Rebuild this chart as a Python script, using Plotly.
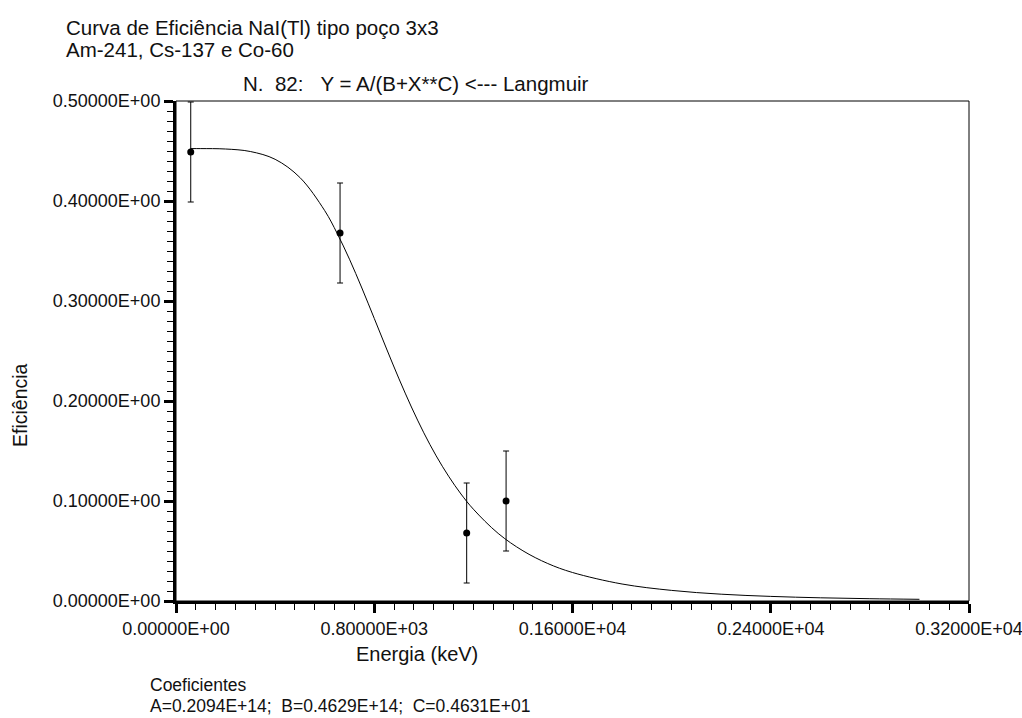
import plotly.graph_objects as go

# Measured points (energy keV, efficiency, uncertainty)
energies = [59.5, 662.0, 1173.0, 1332.0]
efficiency = [0.449, 0.368, 0.068, 0.100]
uncertainty = [0.050, 0.050, 0.050, 0.050]

# Fitted curve
curve_e = [59.5, 100, 200, 300, 400, 500, 600, 650, 700, 750, 800, 850, 900, 950,
           1000, 1050, 1100, 1150, 1200, 1300, 1400, 1500, 1600, 1800, 2000,
           2200, 2400, 2600, 2800, 3000]
curve_y = [0.4524, 0.4524, 0.4520, 0.4495, 0.4417, 0.4235, 0.3904, 0.3678, 0.3418,
           0.3130, 0.2826, 0.2520, 0.2221, 0.1940, 0.1682, 0.1451, 0.1248, 0.1070,
           0.0918, 0.0676, 0.0502, 0.0375, 0.0285, 0.0170, 0.0106, 0.0068, 0.0046,
           0.0032, 0.0023, 0.0017]

x_tickvals = [0, 800, 1600, 2400, 3200]
x_ticktext = ["0.00000E+00", "0.80000E+03", "0.16000E+04", "0.24000E+04", "0.32000E+04"]
y_tickvals = [0.0, 0.1, 0.2, 0.3, 0.4, 0.5]
y_ticktext = ["0.00000E+00", "0.10000E+00", "0.20000E+00", "0.30000E+00", "0.40000E+00", "0.50000E+00"]

title1 = "Curva de Eficiência NaI(Tl) tipo poço 3x3"
title2 = "Am-241, Cs-137 e Co-60"
subtitle = "N.\u00a0\u00a082:\u00a0\u00a0\u00a0Y = A/(B+X**C) <--- Langmuir"
coef_title = "Coeficientes"
coef_text = "A=0.2094E+14;\u00a0\u00a0B=0.4629E+14;\u00a0\u00a0C=0.4631E+01"

FONT = "Arial, Liberation Sans, sans-serif"
TXT = "#111111"

fig = go.Figure()
fig.add_trace(go.Scatter(x=curve_e, y=curve_y, mode="lines", line=dict(color="black", width=1, shape="spline"),
                         hoverinfo="skip", showlegend=False))
fig.add_trace(go.Scatter(x=energies, y=efficiency, mode="markers",
                         marker=dict(color="black", size=7),
                         error_y=dict(type="data", array=uncertainty, visible=True, color="black", thickness=1, width=3),
                         showlegend=False))

axis_common = dict(showgrid=False, zeroline=False, showline=True, linecolor="black", linewidth=3,
                   ticks="outside", ticklen=9, tickwidth=3, tickcolor="black",
                   ticklabeloverflow="allow", automargin=False,
                   tickfont=dict(family=FONT, size=18, color=TXT))

fig.update_xaxes(range=[0, 3200], tickvals=x_tickvals, ticktext=x_ticktext,
                 minor=dict(dtick=80, ticks="outside", ticklen=6, tickwidth=1, tickcolor="black"),
                 **axis_common)
fig.update_yaxes(range=[0, 0.5], tickvals=y_tickvals, ticktext=y_ticktext,
                 minor=dict(dtick=0.01, ticks="outside", ticklen=6, tickwidth=1, tickcolor="black"),
                 **axis_common)

fig.add_shape(type="rect", xref="paper", yref="paper", x0=0, y0=0, x1=1, y1=1,
              line=dict(color="black", width=1), layer="below")

ann = []
ann.append(dict(text=title1, x=64, y=27, xanchor="left", size=20.5))
ann.append(dict(text=title2, x=64, y=50, xanchor="left", size=20.5))
ann.append(dict(text=subtitle, x=416, y=84, xanchor="center", size=20.5))
ann.append(dict(text="Energia (keV)", x=417, y=654, xanchor="center", size=20))
ann.append(dict(text=coef_title, x=148, y=685, xanchor="left", size=17.5))
ann.append(dict(text=coef_text, x=148, y=706, xanchor="left", size=17.5))

W, H = 1022, 718
for a in ann:
    fig.add_annotation(text=a["text"], xref="paper", yref="paper",
                       x=(a["x"] - 176) / (969 - 176), y=(601 - a["y"]) / (601 - 101),
                       xanchor=a["xanchor"], yanchor="middle", showarrow=False,
                       font=dict(family=FONT, size=a["size"], color=TXT))
fig.add_annotation(text="Eficiência", xref="paper", yref="paper",
                   x=(20 - 176) / (969 - 176), y=(601 - 405) / (601 - 101),
                   xanchor="center", yanchor="middle", showarrow=False, textangle=-90,
                   font=dict(family=FONT, size=19.5, color=TXT))

fig.update_layout(width=W, height=H, margin=dict(l=176, r=53, t=101, b=117, autoexpand=False),
                  plot_bgcolor="white", paper_bgcolor="white", showlegend=False)

fig.write_html("out.html")
